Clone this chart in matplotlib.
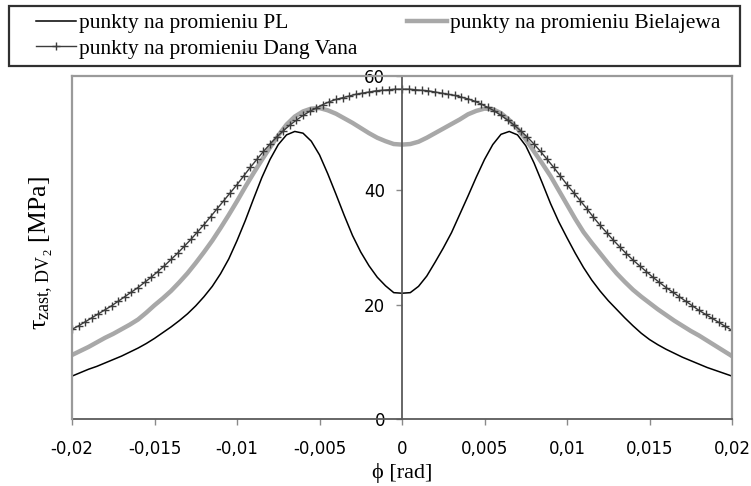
import numpy as np
import matplotlib
matplotlib.use('Agg')
import matplotlib.pyplot as plt
from matplotlib.patches import Rectangle

plt.rcParams['mathtext.fontset'] = 'custom'
plt.rcParams['mathtext.rm'] = 'Liberation Serif'
plt.rcParams['mathtext.it'] = 'Liberation Serif:italic'

# phi grid of the PL and Bielajewa curves [rad]
phi_line = [-0.0200, -0.0195, -0.0190, -0.0185, -0.0180, -0.0175, -0.0170, -0.0165,
            -0.0160, -0.0155, -0.0150, -0.0145, -0.0140, -0.0135, -0.0130, -0.0125,
            -0.0120, -0.0115, -0.0110, -0.0105, -0.0100, -0.0095, -0.0090, -0.0085,
            -0.0080, -0.0075, -0.0070, -0.0065, -0.0060, -0.0055, -0.0050, -0.0045,
            -0.0040, -0.0035, -0.0030, -0.0025, -0.0020, -0.0015, -0.0010, -0.0005,
            0.0000, 0.0005, 0.0010, 0.0015, 0.0020, 0.0025, 0.0030, 0.0035, 0.0040,
            0.0045, 0.0050, 0.0055, 0.0060, 0.0065, 0.0070, 0.0075, 0.0080, 0.0085,
            0.0090, 0.0095, 0.0100, 0.0105, 0.0110, 0.0115, 0.0120, 0.0125, 0.0130,
            0.0135, 0.0140, 0.0145, 0.0150, 0.0155, 0.0160, 0.0165, 0.0170, 0.0175,
            0.0180, 0.0185, 0.0190, 0.0195, 0.0200]

tau_pl = [7.5, 8.1, 8.7, 9.2, 9.8, 10.4, 11.0, 11.7, 12.4, 13.2, 14.1, 15.1, 16.1,
          17.2, 18.4, 19.8, 21.4, 23.2, 25.4, 28.0, 31.2, 34.7, 38.5, 42.2, 45.4,
          48.0, 49.7, 50.3, 50.0, 48.6, 46.2, 42.9, 39.3, 35.6, 32.1, 29.2, 26.8,
          24.8, 23.3, 22.1, 22.0,
          22.1, 23.2, 25.0, 27.4, 29.9, 32.6, 35.8, 39.0, 42.3, 45.4, 48.0, 49.8,
          50.3, 49.7, 47.8, 44.8, 41.3, 37.7, 34.5, 31.7, 29.0, 26.5, 24.3, 22.4,
          20.7, 19.2, 17.7, 16.3, 15.0, 13.9, 13.0, 12.2, 11.5, 10.8, 10.2, 9.6,
          9.0, 8.5, 8.0, 7.5]

tau_biel = [11.2, 11.9, 12.6, 13.4, 14.2, 14.9, 15.7, 16.5, 17.4, 18.6, 19.9, 21.1,
            22.4, 23.9, 25.5, 27.3, 29.2, 31.2, 33.4, 35.7, 38.1, 40.6, 43.0, 45.3,
            47.5, 49.6, 51.5, 52.9, 53.8, 54.3, 54.4, 54.0, 53.4, 52.6, 51.8, 50.9,
            50.0, 49.2, 48.6, 48.1, 48.0,
            48.1, 48.5, 49.2, 50.0, 50.8, 51.6, 52.4, 53.3, 53.9, 54.3, 54.2, 53.5,
            52.3, 50.8, 48.9, 46.8, 44.7, 42.5, 40.0, 37.5, 35.0, 32.7, 30.8, 29.0,
            27.2, 25.5, 24.0, 22.6, 21.4, 20.3, 19.2, 18.2, 17.2, 16.3, 15.4, 14.6,
            13.7, 12.8, 11.9, 11.0]

# phi grid of the Dang Vana points [rad]
phi_dv = [-0.0200, -0.0196, -0.0192, -0.0188, -0.0184, -0.0180, -0.0176, -0.0172,
          -0.0168, -0.0164, -0.0160, -0.0156, -0.0152, -0.0148, -0.0144, -0.0140,
          -0.0136, -0.0132, -0.0128, -0.0124, -0.0120, -0.0116, -0.0112, -0.0108,
          -0.0104, -0.0100, -0.0096, -0.0092, -0.0088, -0.0084, -0.0080, -0.0076,
          -0.0072, -0.0068, -0.0064, -0.0060, -0.0056, -0.0052, -0.0048, -0.0044,
          -0.0040, -0.0036, -0.0032, -0.0028, -0.0024, -0.0020, -0.0016, -0.0012,
          -0.0008, -0.0004, 0.0000, 0.0004, 0.0008, 0.0012, 0.0016, 0.0020, 0.0024,
          0.0028, 0.0032, 0.0036, 0.0040, 0.0044, 0.0048, 0.0052, 0.0056, 0.0060,
          0.0064, 0.0068, 0.0072, 0.0076, 0.0080, 0.0084, 0.0088, 0.0092, 0.0096,
          0.0100, 0.0104, 0.0108, 0.0112, 0.0116, 0.0120, 0.0124, 0.0128, 0.0132,
          0.0136, 0.0140, 0.0144, 0.0148, 0.0152, 0.0156, 0.0160, 0.0164, 0.0168,
          0.0172, 0.0176, 0.0180, 0.0184, 0.0188, 0.0192, 0.0196, 0.0200]

tau_dv = [15.7, 16.3, 17.0, 17.7, 18.4, 19.1, 19.8, 20.6, 21.4, 22.2, 23.0, 23.9,
          24.8, 25.8, 26.8, 27.9, 29.0, 30.2, 31.4, 32.7, 34.0, 35.4, 36.8, 38.2,
          39.6, 41.0, 42.5, 44.0, 45.4, 46.8, 48.1, 49.3, 50.4, 51.4, 52.3, 53.1,
          53.8, 54.4, 55.0, 55.5, 55.9, 56.2, 56.5, 56.8, 57.0, 57.2, 57.4, 57.5,
          57.6, 57.7, 57.7,
          57.7, 57.6, 57.5, 57.4, 57.2, 57.0, 56.8, 56.6, 56.3, 56.0, 55.6, 55.1,
          54.5, 53.9, 53.1, 52.3, 51.4, 50.4, 49.3, 48.1, 46.8, 45.4, 44.0, 42.5,
          41.0, 39.6, 38.2, 36.8, 35.3, 33.9, 32.6, 31.3, 30.1, 28.9, 27.8, 26.8,
          25.8, 24.8, 23.9, 23.0, 22.2, 21.4, 20.6, 19.8, 19.0, 18.3, 17.6, 16.9,
          16.2, 15.5]

xticks = [-0.02, -0.015, -0.01, -0.005, 0, 0.005, 0.01, 0.015, 0.02]
xlabels = ['-0,02', '-0,015', '-0,01', '-0,005', '0', '0,005', '0,01', '0,015', '0,02']
yticks = [0, 20, 40, 60]

fig = plt.figure(figsize=(7.51, 4.86), dpi=100)
ax = fig.add_axes([0.0959, 0.1379, 0.8788, 0.7057])

l_pl, = ax.plot(phi_line, tau_pl, color='black', lw=1.1, label='punkty na promieniu PL')
l_bi, = ax.plot(phi_line, tau_biel, color='#a8a8a8', lw=3.2, label='punkty na promieniu Bielajewa')
l_dv, = ax.plot(phi_dv, tau_dv, color='#3c3c3c', lw=1.0, marker='+', ms=6, mew=1.0,
                label='punkty na promieniu Dang Vana')

ax.set_xlim(-0.02, 0.02)
ax.set_ylim(0, 60)

# frame
for s in ['top', 'right']:
    ax.spines[s].set_color('#9a9a9a')
    ax.spines[s].set_linewidth(1.6)
ax.axvline(-0.02, color='#9a9a9a', lw=1.6, clip_on=False, zorder=3)
ax.spines['bottom'].set_color('#5a5a5a')
ax.spines['bottom'].set_linewidth(1.3)
ax.spines['left'].set_position(('data', 0))
ax.spines['left'].set_color('#5a5a5a')
ax.spines['left'].set_linewidth(1.3)

ax.set_xticks(xticks)
ax.set_xticklabels(xlabels, fontfamily='DejaVu Sans', fontsize=12)
ax.set_yticks(yticks)
ax.set_yticklabels([str(v) for v in yticks], fontfamily='DejaVu Sans', fontsize=12)
ax.tick_params(axis='x', direction='out', length=4, width=1, color='#8a8a8a', pad=11)
ax.tick_params(axis='y', direction='out', length=4, width=1, color='#8a8a8a', pad=8)

fig.text(0.535, 0.026, 'ϕ [rad]', fontfamily='Liberation Serif', fontsize=16,
         ha='center', va='center')
fig.text(0.055, 0.48, r'$\mathrm{\tau_{zast,\,DV_2}}$ [MPa]', fontfamily='Liberation Serif',
         fontsize=18.5, rotation=90, ha='center', va='center')

# legend box
fig.add_artist(Rectangle((9 / 751, 1 - 66 / 486), 731 / 751, 60 / 486,
                         transform=fig.transFigure, fill=False,
                         edgecolor='#303030', lw=1.6))
leg = fig.legend([l_pl, l_dv, l_bi],
                 [l_pl.get_label(), l_dv.get_label(), l_bi.get_label()],
                 loc='upper left', bbox_to_anchor=(36 / 751, 1 - 13 / 486),
                 ncol=2, borderaxespad=0, frameon=False, borderpad=0,
                 prop={'family': 'Liberation Serif', 'size': 15.5},
                 handlelength=1.85, handletextpad=0.15, labelspacing=0.25,
                 columnspacing=2.3)

fig.savefig('out.png', dpi=100)
